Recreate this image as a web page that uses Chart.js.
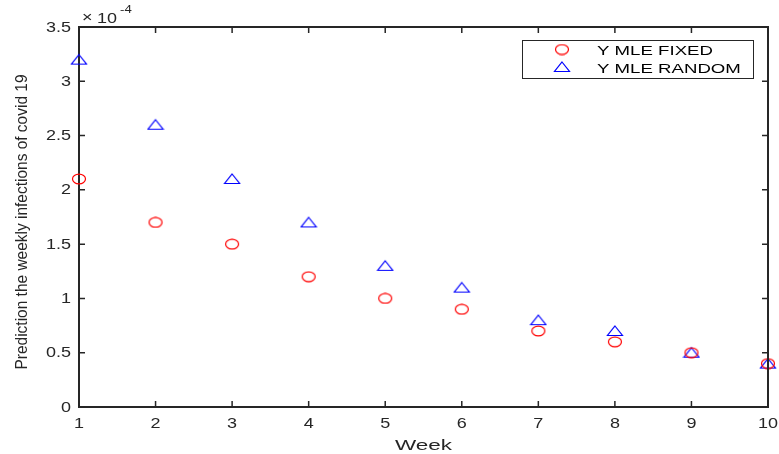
<!DOCTYPE html>
<html>
<head>
<meta charset="utf-8">
<script src="https://cdn.jsdelivr.net/npm/chart.js@4/dist/chart.umd.min.js"></script>
<style>
  html, body { margin: 0; padding: 0; background: #fff; }
  #wrap { width: 779px; height: 454px; }
</style>
</head>
<body>
<div id="wrap"><canvas id="chart" width="779" height="454"></canvas></div>
<script>
// --- DATA --- //
const weeks = [1, 2, 3, 4, 5, 6, 7, 8, 9, 10]
// values in units of 1e-4
const yMleFixed = [2.1, 1.7, 1.5, 1.2, 1.0, 0.9, 0.7, 0.6, 0.5, 0.4]
const yMleRandom = [3.2, 2.6, 2.1, 1.7, 1.3, 1.1, 0.8, 0.7, 0.5, 0.4]
const seriesLabels = ['Y MLE FIXED', 'Y MLE RANDOM']
const xTitle = 'Week'
const yTitle = 'Prediction the weekly infections of covid 19'

const axisColor = '#262626'
const fontFamily = "'Liberation Sans', Arial, Helvetica, sans-serif"

// --- MARKERS --- //
function makeEllipse (color) {
  const c = document.createElement('canvas')
  c.width = 16
  c.height = 12
  const ctx = c.getContext('2d')
  ctx.strokeStyle = color
  ctx.lineWidth = 1.2
  ctx.beginPath()
  ctx.ellipse(8, 6, 6.5, 4.8, 0, 0, Math.PI * 2)
  ctx.stroke()
  return c
}

function makeTriangle (color) {
  const c = document.createElement('canvas')
  c.width = 18
  c.height = 14
  const ctx = c.getContext('2d')
  ctx.strokeStyle = color
  ctx.lineWidth = 1.2
  ctx.beginPath()
  ctx.moveTo(9, 2)
  ctx.lineTo(16.5, 11.5)
  ctx.lineTo(1.5, 11.5)
  ctx.closePath()
  ctx.stroke()
  return c
}

const circleMarker = makeEllipse('#ff0000')
const triangleMarker = makeTriangle('#0000ff')

const toPoints = values => values.map((v, i) => ({ x: weeks[i], y: v }))

// text stretched horizontally (the reference is wider than tall)
function wideText (ctx, text, x, y, size, stretch, align) {
  ctx.save()
  ctx.font = `${size}px ${fontFamily}`
  ctx.textAlign = 'left'
  const w = ctx.measureText(text).width * stretch
  let left = x
  if (align === 'center') left = x - w / 2
  if (align === 'right') left = x - w
  ctx.translate(left, y)
  ctx.scale(stretch, 1)
  ctx.fillText(text, 0, 0)
  ctx.restore()
}

const fmtTick = v => String(Math.round(v * 10) / 10)

// --- PLUGIN: box, inward ticks, labels, titles, legend --- //
const matlabAxes = {
  id: 'matlabAxes',
  afterDraw: chart => {
    const ctx = chart.ctx
    const area = chart.chartArea
    const xs = chart.scales.x
    const ys = chart.scales.y
    ctx.save()
    ctx.strokeStyle = axisColor
    ctx.lineWidth = 2

    // top and right box lines
    ctx.beginPath()
    ctx.moveTo(area.left, area.top)
    ctx.lineTo(area.right, area.top)
    ctx.lineTo(area.right, area.bottom)
    ctx.stroke()

    // inward ticks
    ctx.lineWidth = 1.5
    ctx.beginPath()
    xs.ticks.forEach(t => {
      const px = xs.getPixelForValue(t.value)
      ctx.moveTo(px, area.bottom)
      ctx.lineTo(px, area.bottom - 6)
      ctx.moveTo(px, area.top)
      ctx.lineTo(px, area.top + 6)
    })
    ys.ticks.forEach(t => {
      const py = ys.getPixelForValue(t.value)
      ctx.moveTo(area.left, py)
      ctx.lineTo(area.left + 6, py)
      ctx.moveTo(area.right, py)
      ctx.lineTo(area.right - 6, py)
    })
    ctx.stroke()

    // tick labels
    ctx.fillStyle = axisColor
    ctx.textBaseline = 'middle'
    xs.ticks.forEach(t => {
      wideText(ctx, fmtTick(t.value), xs.getPixelForValue(t.value), 424, 15, 1.2, 'center')
    })
    ys.ticks.forEach(t => {
      wideText(ctx, fmtTick(t.value), 71, ys.getPixelForValue(t.value) + 0.5, 15, 1.2, 'right')
    })

    // exponent label
    ctx.textBaseline = 'alphabetic'
    wideText(ctx, '\u00d7', 82, 22, 15, 1.2, 'left')
    wideText(ctx, '10', 97, 23, 15, 1.2, 'left')
    wideText(ctx, '-4', 120, 13, 11, 1.2, 'left')

    // y title (condensed along its length)
    ctx.save()
    ctx.translate(27, 222)
    ctx.rotate(-Math.PI / 2)
    ctx.font = `17px ${fontFamily}`
    const w = ctx.measureText(yTitle).width
    ctx.scale(295 / w, 1)
    ctx.textAlign = 'center'
    ctx.fillText(yTitle, 0, 0)
    ctx.restore()

    // x title
    wideText(ctx, xTitle, (area.left + area.right) / 2, 450, 15.5, 1.45, 'center')

    // legend
    const lx = 522
    const ly = 40
    const lw = 231
    const lh = 38
    ctx.fillStyle = '#ffffff'
    ctx.fillRect(lx, ly, lw, lh)
    ctx.strokeStyle = '#262626'
    ctx.lineWidth = 1
    ctx.strokeRect(lx + 0.5, ly + 0.5, lw, lh)
    ctx.fillStyle = '#000000'
    ctx.textBaseline = 'alphabetic'
    chart.data.datasets.forEach((ds, i) => {
      const cy = 49.5 + i * 17.5
      const img = ds.pointStyle
      ctx.drawImage(img, 562 - img.width / 2, cy - img.height / 2)
      wideText(ctx, ds.label, 597, cy + 5.5, 13.5, 1.38, 'left')
    })
    ctx.restore()
  }
}

// --- CHART --- //
const canvas = document.getElementById('chart')

const config = {
  type: 'scatter',
  data: {
    datasets: [
      {
        label: seriesLabels[0],
        data: toPoints(yMleFixed),
        pointStyle: circleMarker,
        borderColor: '#ff0000',
        backgroundColor: 'rgba(0,0,0,0)',
        clip: false
      },
      {
        label: seriesLabels[1],
        data: toPoints(yMleRandom),
        pointStyle: triangleMarker,
        borderColor: '#0000ff',
        backgroundColor: 'rgba(0,0,0,0)',
        clip: false
      }
    ]
  },
  options: {
    responsive: false,
    animation: false,
    layout: {
      padding: { top: 27, right: 11, left: 0, bottom: 0 }
    },
    scales: {
      x: {
        type: 'linear',
        min: 1,
        max: 10,
        ticks: { stepSize: 1, display: false },
        grid: { display: false, drawTicks: false },
        border: { display: true, color: axisColor, width: 2 },
        afterFit: scale => { scale.height = 47 }
      },
      y: {
        min: 0,
        max: 3.5,
        ticks: { stepSize: 0.5, display: false },
        grid: { display: false, drawTicks: false },
        border: { display: true, color: axisColor, width: 2 },
        afterFit: scale => { scale.width = 79 }
      }
    },
    plugins: {
      legend: { display: false },
      tooltip: { enabled: false }
    }
  },
  plugins: [matlabAxes]
}

const chart = new Chart(canvas, config)
</script>
</body>
</html>
